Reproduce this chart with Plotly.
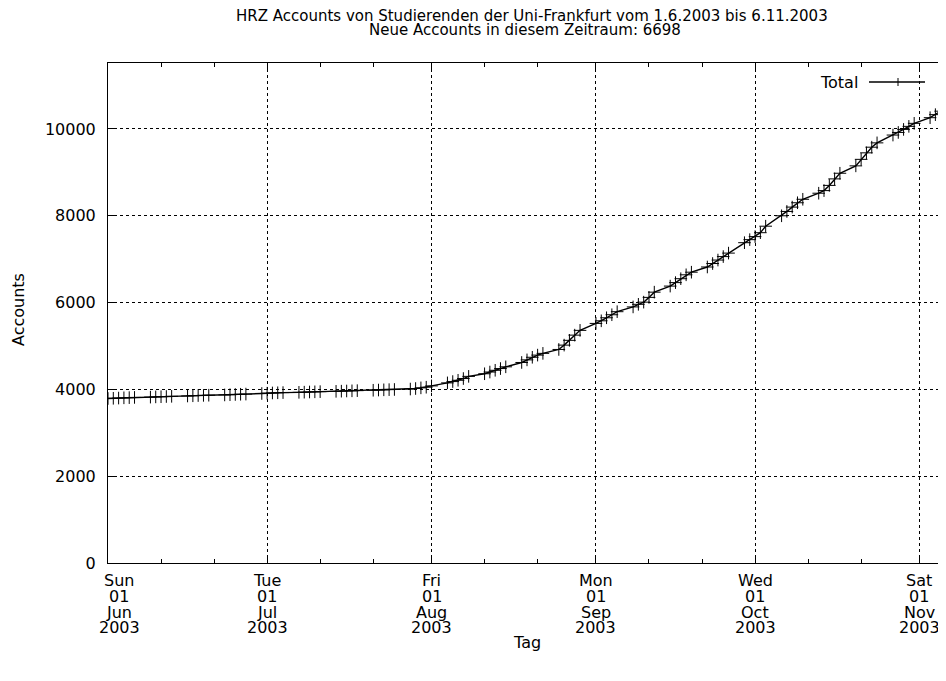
import plotly.graph_objects as go
import pandas as pd

# ---- data ----
dates = ["2003-06-01"] + [d.strftime("%Y-%m-%d") for d in pd.bdate_range("2003-06-02", "2003-11-06")]

accounts = [
    3790,
    # June
    3795, 3800, 3806, 3810, 3815,
    3822, 3827, 3831, 3836, 3840,
    3848, 3853, 3858, 3862, 3866,
    3872, 3877, 3883, 3888, 3892,
    3905,
    # July
    3912, 3918, 3922, 3926,
    3932, 3936, 3940, 3944, 3948,
    3955, 3959, 3963, 3967, 3971,
    3980, 3985, 3990, 3994, 3998,
    4008, 4020, 4035, 4050,
    # August
    4080,
    4150, 4180, 4210, 4250, 4300,
    4360, 4400, 4440, 4480, 4520,
    4620, 4680, 4740, 4790, 4830,
    4920, 5020, 5130, 5250, 5360,
    # September
    5520, 5580, 5650, 5720, 5790,
    5900, 5960, 6010, 6120, 6240,
    6380, 6460, 6550, 6640, 6700,
    6820, 6900, 6980, 7060, 7140,
    7380, 7450,
    # October
    7520, 7610, 7760,
    8000, 8100, 8200, 8300, 8380,
    8520, 8580, 8700, 8850, 8980,
    9150, 9300, 9450, 9580, 9680,
    9860, 9920, 9990, 10060, 10130,
    # November
    10260, 10330, 10410, 10488,
]

tick_dates = ["2003-06-01", "2003-07-01", "2003-08-01", "2003-09-01", "2003-10-01", "2003-11-01"]
tick_weekday = ["Sun", "Tue", "Fri", "Mon", "Wed", "Sat"]
tick_day = ["01", "01", "01", "01", "01", "01"]
tick_month = ["Jun", "Jul", "Aug", "Sep", "Oct", "Nov"]
tick_year = ["2003", "2003", "2003", "2003", "2003", "2003"]
minor_dates = ["2003-06-11", "2003-06-21", "2003-07-11", "2003-07-21", "2003-08-11", "2003-08-21",
               "2003-09-11", "2003-09-21", "2003-10-11", "2003-10-21"]
y_ticks = [0, 2000, 4000, 6000, 8000, 10000]
y_ticktext = ["0", "2000", "4000", "6000", "8000", "10000"]

title_line1 = "HRZ Accounts von Studierenden der Uni-Frankfurt vom 1.6.2003 bis 6.11.2003"
title_line2 = "Neue Accounts in diesem Zeitraum: 6698"

FONT = "DejaVu Sans, Liberation Sans, Arial, sans-serif"
FS = 16

# page body has an 8px margin: figure coords = screen coords - 8
OFF = 8
W, H = 946 - OFF, 681 - OFF
L, R, T, B = 108 - OFF, 946 - OFF, 63 - OFF, 563 - OFF

def px(xs):
    return (xs - OFF - L) / (R - L)
def py(ys):
    return (B - (ys - OFF)) / (B - T)

fig = go.Figure()
fig.add_trace(go.Scatter(
    x=dates, y=accounts, mode="lines+markers", name="Total",
    line=dict(color="black", width=1.4),
    marker=dict(symbol="cross-thin", size=9, color="black", line=dict(width=1, color="black")),
    showlegend=False,
))

# title (two lines, gnuplot-like tight spacing)
fig.add_annotation(x=px(532), y=py(16), xref="paper", yref="paper", text=title_line1,
                   showarrow=False, xanchor="center", yanchor="middle",
                   font=dict(family=FONT, size=15, color="black"))
fig.add_annotation(x=px(525), y=py(30), xref="paper", yref="paper", text=title_line2,
                   showarrow=False, xanchor="center", yanchor="middle",
                   font=dict(family=FONT, size=15, color="black"))

# legend (gnuplot style: text then sample)
fig.add_annotation(x=px(860), y=py(82), xref="paper", yref="paper", text="Total",
                   showarrow=False, xanchor="right", yanchor="middle",
                   font=dict(family=FONT, size=FS, color="black"))
fig.add_shape(type="line", xref="paper", yref="paper", x0=px(869), x1=px(925), y0=py(82), y1=py(82),
              line=dict(color="black", width=1.3))
fig.add_shape(type="line", xref="paper", yref="paper", x0=px(898), x1=px(898), y0=py(78), y1=py(86),
              line=dict(color="black", width=1))

# multi-line x tick labels (first one sits just right of the axis corner, as in the original)
rows = [(tick_weekday, 580), (tick_day, 596), (tick_month, 612), (tick_year, 627)]
for labels, ypix in rows:
    for i, (d, lab) in enumerate(zip(tick_dates, labels)):
        fig.add_annotation(x=d, y=py(ypix), xref="x", yref="paper", text=lab,
                           showarrow=False, xanchor="center", yanchor="middle",
                           xshift=11 if i == 0 else 0,
                           font=dict(family=FONT, size=FS, color="black"))

# axis titles
fig.add_annotation(x=px(527), y=py(642), xref="paper", yref="paper", text="Tag",
                   showarrow=False, xanchor="center", yanchor="middle",
                   font=dict(family=FONT, size=FS, color="black"))
fig.add_annotation(x=px(18), y=py(310), xref="paper", yref="paper", text="Accounts",
                   showarrow=False, xanchor="center", yanchor="middle", textangle=-90,
                   font=dict(family=FONT, size=FS, color="black"))

fig.update_layout(
    width=W, height=H,
    margin=dict(l=L, r=W - R, t=T, b=H - B),
    paper_bgcolor="white", plot_bgcolor="white",
    font=dict(family=FONT, size=FS, color="black"),
    showlegend=False,
)

fig.update_xaxes(
    type="date", range=["2003-06-01", "2003-11-06"], automargin=False,
    tickmode="array", tickvals=tick_dates, showticklabels=False,
    ticks="inside", ticklen=7, tickcolor="black", tickwidth=1,
    showline=True, linecolor="black", linewidth=1, mirror="ticks",
    showgrid=True, gridcolor="black", griddash="dot", gridwidth=1,
    zeroline=False,
    minor=dict(tickmode="array", tickvals=minor_dates, ticks="inside", ticklen=4,
               tickcolor="black", showgrid=False),
)
fig.update_yaxes(
    range=[0, 11520], automargin=False,
    tickmode="array", tickvals=y_ticks, ticktext=y_ticktext,
    ticks="inside", ticklen=7, tickcolor="black", tickwidth=1,
    showline=True, linecolor="black", linewidth=1,
    showgrid=True, gridcolor="black", griddash="dot", gridwidth=1,
    zeroline=False,
    tickfont=dict(family=FONT, size=FS),
    ticklabelstandoff=8,
)

fig.write_html("out.html")
